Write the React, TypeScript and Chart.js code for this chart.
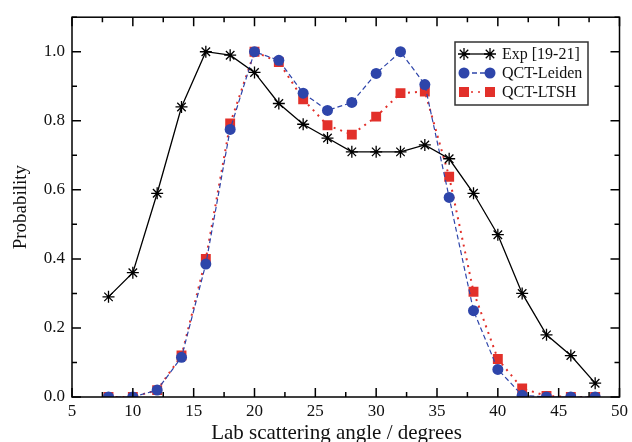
import React, { useEffect, useRef } from "react";
import { Chart, registerables } from "chart.js";

Chart.register(...registerables);

const angles = [8, 10, 12, 14, 16, 18, 20, 22, 24, 26, 28, 30, 32, 34, 36, 38, 40, 42, 44, 46, 48];
const expValues = [0.29, 0.36, 0.59, 0.84, 1.0, 0.99, 0.94, 0.85, 0.79, 0.75, 0.71, 0.71, 0.71, 0.73, 0.69, 0.59, 0.47, 0.30, 0.18, 0.12, 0.04];
const leidenValues = [0.0, 0.0, 0.02, 0.115, 0.385, 0.775, 1.0, 0.975, 0.88, 0.83, 0.853, 0.937, 1.0, 0.905, 0.578, 0.25, 0.08, 0.005, 0.0, 0.0, 0.0];
const ltshValues = [0.0, 0.0, 0.02, 0.12, 0.40, 0.792, 1.0, 0.97, 0.862, 0.787, 0.76, 0.812, 0.88, 0.885, 0.638, 0.305, 0.11, 0.025, 0.003, 0.0, 0.0];
const seriesNames = ["Exp [19-21]", "QCT-Leiden", "QCT-LTSH"];
const xTitle = "Lab scattering angle / degrees";
const yTitle = "Probability";

const BLUE = "#2e45aa";
const RED = "#e2302a";
const FONT = "'Liberation Serif', 'DejaVu Serif', serif";

function toPoints(vals: number[]) {
  return angles.map((a, i) => ({ x: a, y: vals[i] }));
}

function drawMarker(ctx: CanvasRenderingContext2D, style: string, x: number, y: number, color: string) {
  ctx.save();
  ctx.setLineDash([]);
  if (style === "star") {
    const r = 6;
    ctx.strokeStyle = color;
    ctx.lineWidth = 1.3;
    ctx.beginPath();
    for (let k = 0; k < 4; k++) {
      const ang = (k * Math.PI) / 4;
      ctx.moveTo(x - r * Math.cos(ang), y - r * Math.sin(ang));
      ctx.lineTo(x + r * Math.cos(ang), y + r * Math.sin(ang));
    }
    ctx.stroke();
  } else if (style === "circle") {
    ctx.fillStyle = color;
    ctx.beginPath();
    ctx.arc(x, y, 5.5, 0, Math.PI * 2);
    ctx.fill();
  } else {
    ctx.fillStyle = color;
    ctx.fillRect(x - 5, y - 5, 10, 10);
  }
  ctx.restore();
}

const framePlugin = {
  id: "frameTicks",
  afterDatasetsDraw(chart: any) {
    const { ctx, chartArea: a, scales } = chart;
    const xs = scales.x;
    const ys = scales.y;
    ctx.save();
    ctx.strokeStyle = "#000";
    ctx.lineWidth = 1.5;
    ctx.setLineDash([]);
    ctx.strokeRect(a.left, a.top, a.right - a.left, a.bottom - a.top);
    ctx.beginPath();
    for (let i = 0; i <= 18; i++) {
      const v = 5 + i * 2.5;
      const px = xs.getPixelForValue(v);
      const len = i % 2 === 0 ? 9 : 5;
      ctx.moveTo(px, a.bottom);
      ctx.lineTo(px, a.bottom - len);
      ctx.moveTo(px, a.top);
      ctx.lineTo(px, a.top + len);
    }
    for (let i = 0; i <= 11; i++) {
      const v = i * 0.1;
      const py = ys.getPixelForValue(v);
      const len = i % 2 === 0 ? 9 : 5;
      ctx.moveTo(a.left, py);
      ctx.lineTo(a.left + len, py);
      ctx.moveTo(a.right, py);
      ctx.lineTo(a.right - len, py);
    }
    ctx.stroke();

    // x-axis title
    ctx.fillStyle = "#111";
    ctx.font = `21px ${FONT}`;
    ctx.textAlign = "center";
    ctx.textBaseline = "alphabetic";
    ctx.fillText(xTitle, 336.5, 439);

    // legend
    const bx = 455, by = 42, bw = 133, bh = 63;
    ctx.fillStyle = "#fff";
    ctx.fillRect(bx, by, bw, bh);
    ctx.strokeStyle = "#333";
    ctx.lineWidth = 1.5;
    ctx.strokeRect(bx, by, bw, bh);
    const rows = [54, 73, 92];
    const styles = ["star", "circle", "rect"];
    const colors = ["#000", BLUE, RED];
    const dashes = [[], [5, 3], [2, 5]];
    const x1 = 464, x2 = 490;
    rows.forEach((ry, i) => {
      ctx.save();
      ctx.strokeStyle = colors[i];
      ctx.lineWidth = i === 0 ? 1.3 : 1.5;
      ctx.setLineDash(dashes[i]);
      ctx.beginPath();
      ctx.moveTo(x1, ry);
      ctx.lineTo(x2, ry);
      ctx.stroke();
      ctx.restore();
      drawMarker(ctx, styles[i], x1, ry, colors[i]);
      drawMarker(ctx, styles[i], x2, ry, colors[i]);
      ctx.fillStyle = "#111";
      ctx.font = `16px ${FONT}`;
      ctx.textBaseline = "middle";
      ctx.textAlign = "left";
      ctx.fillText(seriesNames[i], 502, ry + 1);
    });
    ctx.restore();
  },
};

export default function App() {
  const ref = useRef<HTMLCanvasElement | null>(null);
  useEffect(() => {
    if (!ref.current) return;
    const chart = new Chart(ref.current, {
      type: "line",
      data: {
        datasets: [
          {
            label: seriesNames[0],
            data: toPoints(expValues),
            borderColor: "#000",
            backgroundColor: "#000",
            borderWidth: 1.3,
            pointStyle: "star",
            pointRadius: 6,
            pointBorderWidth: 1.3,
            pointBorderColor: "#000",
            tension: 0,
          },
          {
            label: seriesNames[1],
            data: toPoints(leidenValues),
            borderColor: BLUE,
            backgroundColor: BLUE,
            borderWidth: 1.2,
            borderDash: [5, 3],
            pointStyle: "circle",
            pointRadius: 5.5,
            pointBorderWidth: 0,
            tension: 0,
          },
          {
            label: seriesNames[2],
            data: toPoints(ltshValues),
            borderColor: RED,
            backgroundColor: RED,
            borderWidth: 2,
            borderDash: [2, 5],
            pointStyle: "rect",
            pointRadius: 7,
            pointBorderWidth: 0,
            tension: 0,
          },
        ],
      },
      options: {
        animation: false,
        responsive: true,
        maintainAspectRatio: false,
        layout: { padding: { top: 15, right: 12, left: 0, bottom: 0 } },
        plugins: {
          legend: { display: false },
          tooltip: { enabled: false },
        },
        scales: {
          x: {
            type: "linear",
            min: 5,
            max: 50,
            grid: { display: false, drawTicks: false },
            border: { display: false },
            ticks: {
              stepSize: 5,
              color: "#111",
              padding: 4,
              font: { family: FONT, size: 17 },
              callback: (v: any) => String(v),
            },
            title: { display: false },
            afterFit: (s: any) => {
              s.height = 45;
            },
          },
          y: {
            min: 0,
            max: 1.1,
            grid: { display: false, drawTicks: false },
            border: { display: false },
            ticks: {
              stepSize: 0.2,
              color: "#111",
              padding: 7,
              font: { family: FONT, size: 17 },
              callback: (v: any) => (Math.abs(v * 5 - Math.round(v * 5)) < 1e-6 ? Number(v).toFixed(1) : ""),
            },
            title: {
              display: true,
              text: yTitle,
              color: "#111",
              font: { family: FONT, size: 19 },
              padding: { top: 10, bottom: 0 },
            },
            afterFit: (s: any) => {
              s.width = 72;
            },
          },
        },
      },
      plugins: [framePlugin],
    } as any);
    return () => chart.destroy();
  }, []);
  return (
    <div style={{ position: "fixed", left: 0, top: 0, width: 632, height: 442, background: "#fff" }}>
      <canvas ref={ref} />
    </div>
  );
}
